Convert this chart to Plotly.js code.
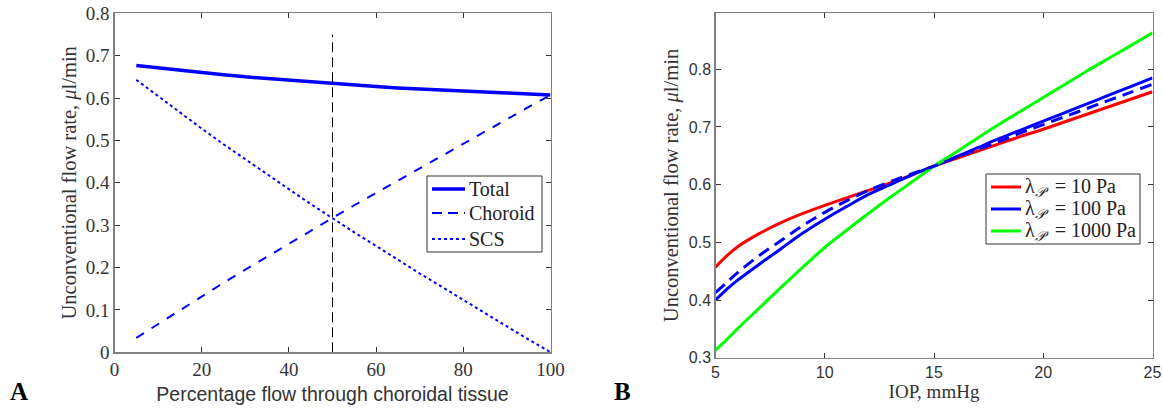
<!DOCTYPE html>
<html>
<head>
<meta charset="utf-8">
<script src="https://cdn.plot.ly/plotly-3.0.1.min.js"></script>
<style>html,body{margin:0;padding:0;background:#fff;}#chart{width:1163px;height:409px;}</style>
</head>
<body>
<div id="chart"></div>
<script>
// Panel A data
const pctFlow = [5,10,15,20,25,30,35,40,45,50,55,60,65,70,75,80,85,90,95,100];
const totalFlow = [0.677,0.671,0.665,0.660,0.655,0.650,0.646,0.641,0.637,0.633,0.630,0.627,0.624,0.621,0.619,0.617,0.614,0.612,0.609,0.607];
const choroidFlow = [0.034,0.067,0.100,0.132,0.164,0.195,0.226,0.256,0.287,0.317,0.347,0.376,0.406,0.435,0.464,0.494,0.522,0.551,0.579,0.607];
const scsFlow = [0.643,0.604,0.565,0.528,0.491,0.455,0.420,0.385,0.350,0.316,0.283,0.251,0.218,0.186,0.155,0.123,0.092,0.061,0.030,0.000];
const refLineX = [50,50];
const refLineY = [0,0.75];

// Panel B data
const iop = [5,5.5,6,7,8,9,10,11,12,13,14,15,16,17,18,19,20,21,22,23,24,25];
const lam10 = [0.457,0.476,0.492,0.515,0.534,0.550,0.564,0.577,0.590,0.603,0.617,0.632,0.645,0.658,0.671,0.684,0.696,0.709,0.722,0.735,0.748,0.761];
const lam100 = [0.400,0.418,0.434,0.462,0.489,0.516,0.540,0.562,0.583,0.600,0.617,0.632,0.648,0.664,0.680,0.695,0.710,0.725,0.740,0.755,0.770,0.785];
const lam100dash = [0.413,0.430,0.447,0.477,0.503,0.529,0.552,0.572,0.590,0.605,0.619,0.632,0.647,0.661,0.675,0.690,0.704,0.718,0.732,0.746,0.760,0.774];
const lam1000 = [0.313,0.331,0.350,0.386,0.422,0.457,0.491,0.521,0.550,0.578,0.605,0.632,0.656,0.681,0.705,0.728,0.751,0.774,0.797,0.819,0.841,0.863];

const legendNames = ["Total","Choroid","SCS"];
const lamNames = ["λ<sub><i>𝒫</i></sub>\u00a0\u00a0=\u00a010 Pa","λ<sub><i>𝒫</i></sub>\u00a0\u00a0=\u00a0100 Pa","λ<sub><i>𝒫</i></sub>\u00a0\u00a0=\u00a01000 Pa"];

const serif = "Liberation Serif, Times New Roman, serif";
const sans = "Liberation Sans, Arial, sans-serif";

const styleA = [
  {color:'#0000ff', width:3.5, dash:'solid'},
  {color:'#0000ff', width:2, dash:'dash'},
  {color:'#0000ff', width:2, dash:'dot'}
];
const styleB = [
  {color:'#ff0000', width:3, dash:'solid'},
  {color:'#0000ff', width:3, dash:'solid'},
  {color:'#00ff00', width:3, dash:'solid'}
];

const traces = [
  {x:pctFlow, y:totalFlow, mode:'lines', name:legendNames[0], line:Object.assign({}, styleA[0]), xaxis:'x', yaxis:'y'},
  {x:pctFlow, y:choroidFlow, mode:'lines', name:legendNames[1], line:Object.assign({}, styleA[1]), xaxis:'x', yaxis:'y'},
  {x:pctFlow, y:scsFlow, mode:'lines', name:legendNames[2], line:Object.assign({}, styleA[2]), xaxis:'x', yaxis:'y'},
  {x:refLineX, y:refLineY, mode:'lines', line:{color:'#000000', width:1, dash:'10px,5px'}, xaxis:'x', yaxis:'y'},
  {x:iop, y:lam10, mode:'lines', name:lamNames[0], line:Object.assign({shape:'spline'}, styleB[0]), xaxis:'x2', yaxis:'y2'},
  {x:iop, y:lam100, mode:'lines', name:lamNames[1], line:Object.assign({shape:'spline'}, styleB[1]), xaxis:'x2', yaxis:'y2'},
  {x:iop, y:lam1000, mode:'lines', name:lamNames[2], line:Object.assign({shape:'spline'}, styleB[2]), xaxis:'x2', yaxis:'y2'},
  {x:iop, y:lam100dash, mode:'lines', line:{color:'#0000ff', width:3, dash:'12px,7px', shape:'spline'}, xaxis:'x2', yaxis:'y2'}
];

const axisCommon = {
  showline:true, linecolor:'#808080', linewidth:1.2, mirror:'ticks',
  ticks:'inside', ticklen:5, tickcolor:'#333', tickwidth:1,
  showgrid:false, zeroline:false, automargin:false
};

const W = 1163, H = 409;
const px = v => v / W;
const py = v => 1 - v / H;

// Hand-built legends (boxes, samples, labels) in paper coordinates
const shapes = [];
const annotations = [];
function addLegend(box, rowsY, sampleX, textX, names, styles, fontSize) {
  shapes.push({type:'rect', xref:'paper', yref:'paper', x0:px(box[0]), x1:px(box[1]), y0:py(box[3]), y1:py(box[2]),
    line:{color:'#333', width:1}, fillcolor:'#fff', layer:'above'});
  names.forEach((nm, i) => {
    shapes.push({type:'line', xref:'paper', yref:'paper', x0:px(sampleX[0]), x1:px(sampleX[1]), y0:py(rowsY[i]), y1:py(rowsY[i]),
      line:{color:styles[i].color, width:styles[i].width, dash:styles[i].dash === 'dash' ? '10px,6px' : styles[i].dash}, layer:'above'});
    annotations.push({text:nm, xref:'paper', yref:'paper', x:px(textX), y:py(rowsY[i]), xanchor:'left', yanchor:'middle',
      showarrow:false, font:{family:serif, size:fontSize, color:'#222'}});
  });
}
addLegend([427, 542, 176, 252], [189, 213, 239], [432, 465], 467, legendNames, styleA, 20);
addLegend([986, 1140, 174, 244], [187, 209, 231], [991, 1021], 1023, lamNames, styleB, 20);

annotations.push({text:'<b>A</b>', xref:'paper', yref:'paper', x:px(8), y:py(391), xanchor:'left', yanchor:'middle', showarrow:false, font:{family:serif, size:25, color:'#000'}});
annotations.push({text:'<b>B</b>', xref:'paper', yref:'paper', x:px(612), y:py(391), xanchor:'left', yanchor:'middle', showarrow:false, font:{family:serif, size:25, color:'#000'}});

const layout = {
  width:W, height:H,
  margin:{l:0,r:0,t:0,b:0},
  paper_bgcolor:'#fff', plot_bgcolor:'#fff',
  showlegend:false,
  xaxis: Object.assign({}, axisCommon, {
    domain:[px(114.5), px(550.5)], range:[0,100], tickvals:[0,20,40,60,80,100],
    tickfont:{family:serif, size:19, color:'#333'},
    title:{text:'Percentage flow through choroidal tissue', font:{family:sans, size:19.5, color:'#333'}, standoff:8},
    anchor:'y'
  }),
  yaxis: Object.assign({}, axisCommon, {
    domain:[py(352.3), py(13.3)], range:[0,0.8], tickvals:[0,0.1,0.2,0.3,0.4,0.5,0.6,0.7,0.8],
    tickfont:{family:serif, size:19, color:'#333'},
    title:{text:'Unconventional flow rate, <i>μ</i>l/min', font:{family:serif, size:20.5, color:'#333'}, standoff:3},
    anchor:'x'
  }),
  xaxis2: Object.assign({}, axisCommon, {
    domain:[px(715.5), px(1152.5)], range:[5,25], tickvals:[5,10,15,20,25],
    tickfont:{family:sans, size:16, color:'#333'},
    title:{text:'IOP, mmHg', font:{family:serif, size:19, color:'#333'}, standoff:4},
    anchor:'y2'
  }),
  yaxis2: Object.assign({}, axisCommon, {
    domain:[py(357.7), py(13.3)], range:[0.3,0.897], tickvals:[0.3,0.4,0.5,0.6,0.7,0.8],
    tickfont:{family:sans, size:16, color:'#333'},
    title:{text:'Unconventional flow rate, <i>μ</i>l/min', font:{family:serif, size:20.5, color:'#333'}, standoff:4},
    anchor:'x2'
  }),
  shapes: shapes,
  annotations: annotations
};

Plotly.newPlot('chart', traces, layout, {displayModeBar:false, staticPlot:true});
</script>
</body>
</html>
